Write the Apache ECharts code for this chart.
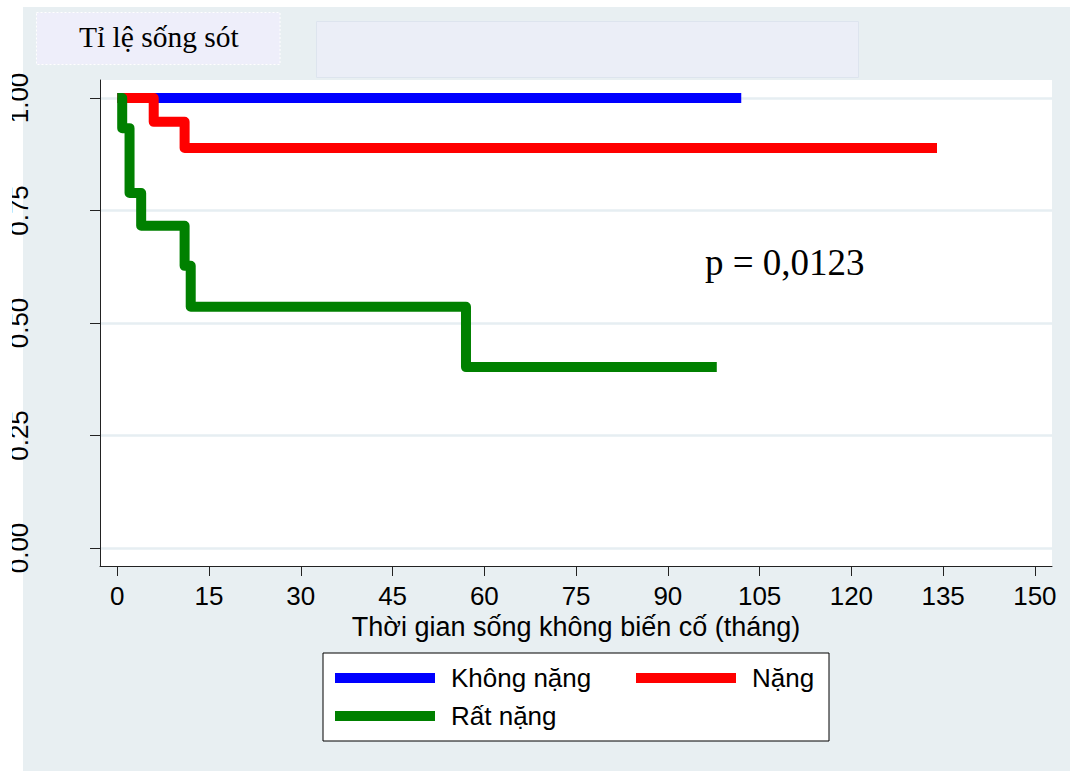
<!DOCTYPE html>
<html>
<head>
<meta charset="utf-8">
<script src="https://cdn.jsdelivr.net/npm/echarts@6/dist/echarts.min.js"></script>
<style>
html,body{margin:0;padding:0;background:#fff;}
#chart{width:1070px;height:771px;}
</style>
</head>
<body>
<div id="chart"></div>
<script>
// ---- data ----
const seriesNames = ['Không nặng', 'Nặng', 'Rất nặng'];
const seriesColors = ['#0000ff', '#ff0000', '#008000'];
const timeKhongNang = [0, 102];
const survKhongNang = [1, 1];
const timeNang = [0, 5.95, 11, 134];
const survNang = [1, 0.947, 0.889, 0.889];
const timeRatNang = [0, 0.8, 2, 3.9, 11, 12, 57, 98];
const survRatNang = [1, 0.933, 0.789, 0.716, 0.627, 0.536, 0.402, 0.402];
const xTicks = [0, 15, 30, 45, 60, 75, 90, 105, 120, 135, 150];
const yTicks = [0, 0.25, 0.5, 0.75, 1];
const titleText = 'Tỉ lệ sống sót';
const pText = 'p = 0,0123';
const xAxisName = 'Thời gian sống không biến cố (tháng)';

function pairs(t, s) { return t.map((v, i) => [v, s[i]]); }
const allData = [pairs(timeKhongNang, survKhongNang), pairs(timeNang, survNang), pairs(timeRatNang, survRatNang)];

const chart = echarts.init(document.getElementById('chart'), null, {renderer: 'svg'});
const sans = 'Liberation Sans, Arial, sans-serif';
const serif = 'Liberation Serif, Times New Roman, serif';

const legendPos = [[335, 663], [636, 663], [335, 701]];

chart.setOption({
  animation: false,
  backgroundColor: '#ffffff',
  title: [
    {text: titleText, left: 79, top: 22, padding: 0,
     textStyle: {fontFamily: serif, fontSize: 29.5, fontWeight: 'normal', color: '#000'}},
    {text: pText, left: 705, top: 244, padding: 0,
     textStyle: {fontFamily: serif, fontSize: 37, fontWeight: 'normal', color: '#000'}}
  ],
  graphic: [
    {type: 'rect', z: -10, silent: true, shape: {x: 23, y: 7, width: 1047, height: 764}, style: {fill: '#e8eff2'}},
    {type: 'rect', z: -5, silent: true, shape: {x: 36.5, y: 12.5, width: 243.5, height: 52}, style: {fill: '#eeeefa', stroke: '#ffffff', lineWidth: 1, lineDash: [2, 2]}},
    {type: 'rect', z: -5, silent: true, shape: {x: 316.5, y: 21.5, width: 542, height: 56}, style: {fill: '#ebeef7', stroke: '#dde4ee', lineWidth: 1}},
    {type: 'rect', z: -5, silent: true, shape: {x: 323, y: 653, width: 506, height: 88}, style: {fill: '#ffffff', stroke: '#000000', lineWidth: 1}},
    {type: 'rect', z: 100, silent: true, shape: {x: 0, y: 0, width: 12, height: 771}, style: {fill: '#ffffff'}}
  ],
  legend: seriesNames.map((n, i) => ({
    data: [n], left: legendPos[i][0], top: legendPos[i][1], padding: 0,
    icon: 'rect', itemWidth: 100, itemHeight: 10, selectedMode: false,
    textStyle: {fontFamily: sans, fontSize: 26, color: '#000', lineHeight: 30, padding: [0, 0, 0, 11]}
  })),
  grid: {left: 100, top: 80, right: 18, bottom: 205, show: true, backgroundColor: '#ffffff', borderWidth: 0, containLabel: false},
  xAxis: {
    type: 'value', min: -2.83, max: 152.8,
    name: xAxisName, nameLocation: 'middle', nameGap: 40,
    nameTextStyle: {fontFamily: sans, fontSize: 27, color: '#000'},
    axisLine: {show: true, onZero: false, lineStyle: {color: '#222', width: 1}},
    axisTick: {show: true, length: 10, customValues: xTicks, lineStyle: {color: '#222', width: 1}},
    axisLabel: {customValues: xTicks, margin: 17, fontFamily: sans, fontSize: 26, color: '#000', showMinLabel: true, showMaxLabel: true},
    splitLine: {show: false}
  },
  yAxis: {
    type: 'value', min: -0.04, max: 1.04,
    axisLine: {show: true, onZero: false, lineStyle: {color: '#222', width: 1}},
    axisTick: {show: true, length: 10, customValues: yTicks, lineStyle: {color: '#222', width: 1}},
    axisLabel: {customValues: yTicks, rotate: 90, margin: 68, fontFamily: sans, fontSize: 26, color: '#000',
      formatter: v => v.toFixed(2)},
    splitLine: {show: true, lineStyle: {color: '#e6eef2', width: 2.5}}
  },
  series: seriesNames.map((n, i) => ({
    name: n, type: 'line', step: 'end', data: allData[i],
    showSymbol: false, symbol: 'none', silent: true, z: 2 + i,
    color: seriesColors[i],
    lineStyle: {color: seriesColors[i], width: 10, cap: 'butt', join: 'round'},
    emphasis: {disabled: true}
  }))
});
</script>
</body>
</html>
